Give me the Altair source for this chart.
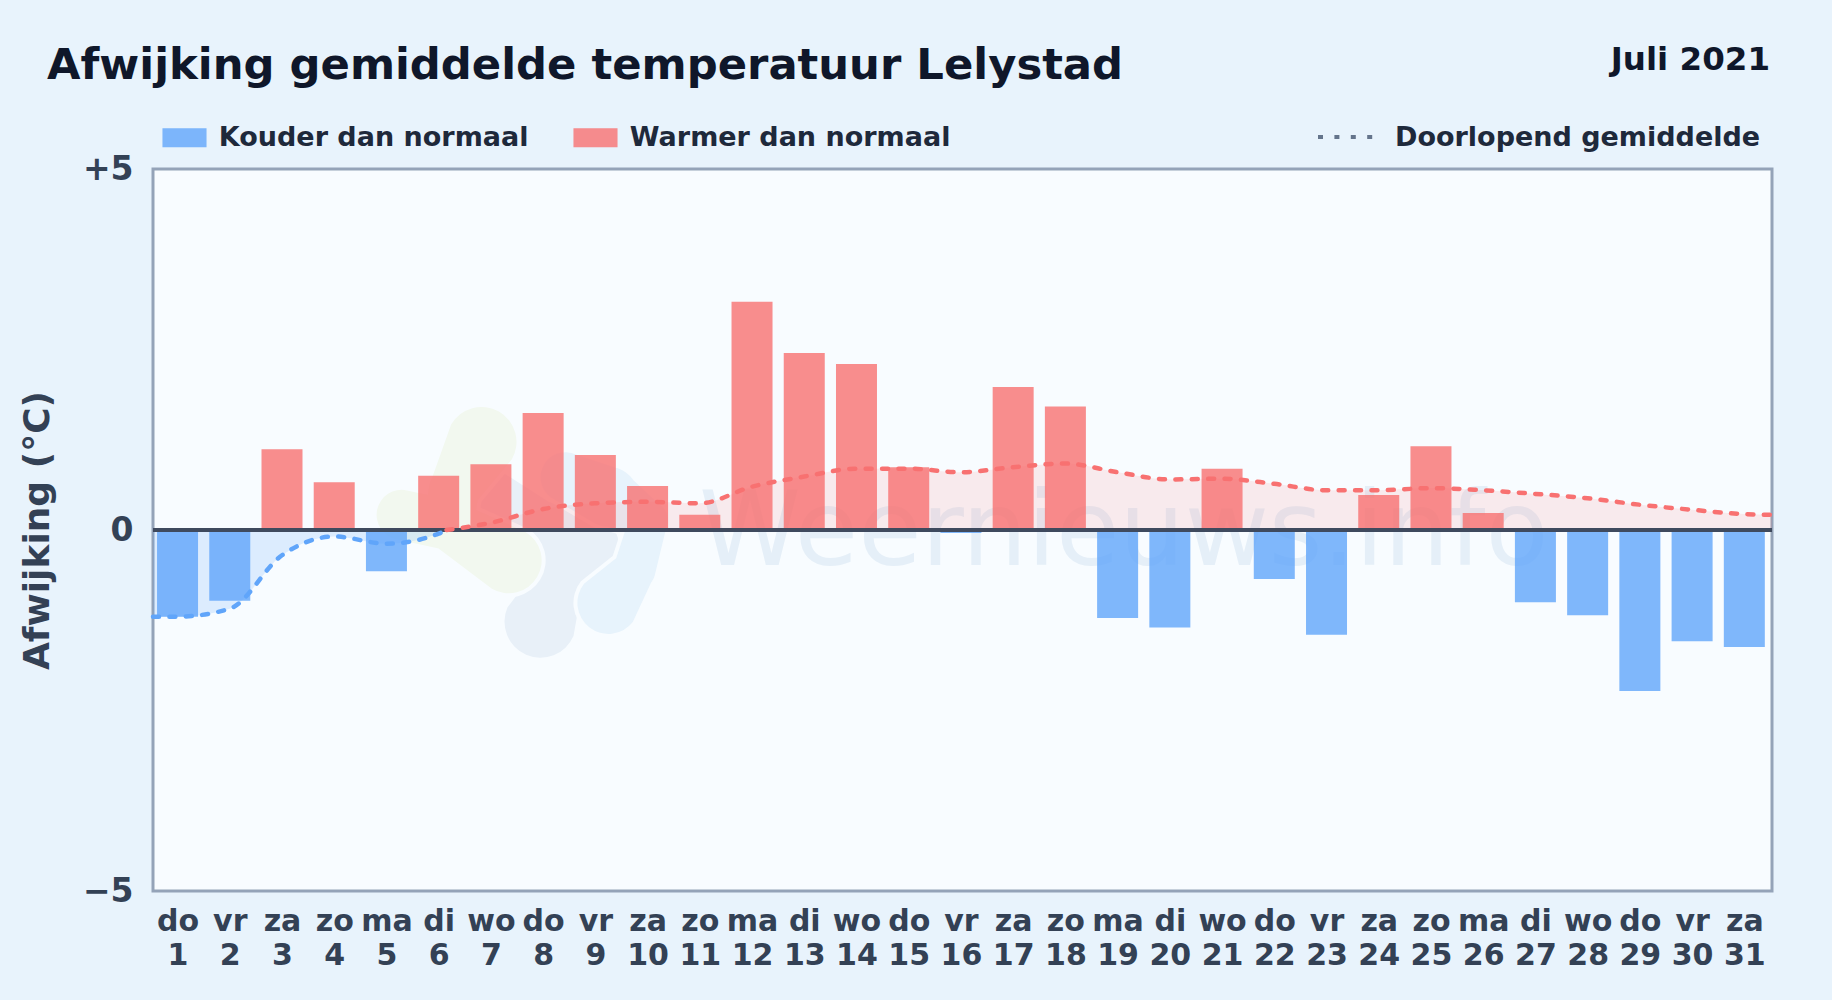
import altair as alt
import pandas as pd

FONT = "DejaVu Sans"
BG = "#e8f3fc"
PLOT = "#f8fcff"

day_names = ["do","vr","za","zo","ma","di","wo","do","vr","za","zo","ma","di","wo","do","vr","za","zo","ma","di","wo","do","vr","za","zo","ma","di","wo","do","vr","za"]
days = list(range(1, 32))
deviation = [-1.20,-0.98,1.12,0.66,-0.57,0.75,0.91,1.62,1.04,0.61,0.21,3.16,2.45,2.30,0.87,-0.04,1.98,1.71,-1.22,-1.35,0.85,-0.68,-1.45,0.485,1.16,0.235,-1.00,-1.18,-2.23,-1.54,-1.62]

cold_x = [0.53,1,2,3,4,5,6,6.15]
cold_y = [-1.20,-1.20,-1.09,-0.35,-0.09,-0.19,-0.05,0.0]
warm_x = [6.15,7,8,9,10,11,12,13,14,15,16,17,18,19,20,21,22,23,24,25,26,27,28,29,30,31,31.53]
warm_y = [0.0,0.10,0.29,0.37,0.39,0.37,0.60,0.74,0.85,0.85,0.80,0.87,0.92,0.80,0.70,0.71,0.64,0.55,0.55,0.58,0.55,0.50,0.44,0.35,0.28,0.22,0.21]

logo_dark = [("a",6.96,0.46,56),("a",7.91,0.07,50),("a",8.87,-0.21,60),("b",8.87,-0.21,60),("b",8.30,-0.69,50),("b",7.95,-1.27,72)]
logo_light = [("a",8.43,0.73,50),("a",9.25,0.46,60),("a",10.02,0.14,38),("a",9.75,-0.55,42),("a",9.25,-1.01,62)]
logo_green = [("a",5.29,0.21,50),("a",6.19,0.07,50),("a",7.34,-0.42,66),("b",6.82,1.22,70),("b",6.29,0.55,50),("b",6.19,0.07,50)]

LABEL_COLD = "Kouder dan normaal"
LABEL_WARM = "Warmer dan normaal"

bars_df = pd.DataFrame({"dag": days, "afwijking": deviation, "naam": day_names})
bars_df["soort"] = [LABEL_COLD if v < 0 else LABEL_WARM for v in deviation]
cold_df = pd.DataFrame({"dag": cold_x, "gem": cold_y})
warm_df = pd.DataFrame({"dag": warm_x, "gem": warm_y})

X = alt.Scale(domain=[0.53, 31.53], nice=False, zero=False, padding=0)
Y = alt.Scale(domain=[-5, 5], nice=False)

names_js = "[" + ",".join(f"'{n}'" for n in day_names) + "]"

x_axis = alt.Axis(
    values=days, ticks=False, domain=False, grid=False, labelOverlap=False, labelFlush=False,
    labelExpr=f"[{names_js}[datum.value-1], '' + datum.value]",
    labelFont=FONT, labelFontSize=30, labelFontWeight="bold", labelColor="#334155",
    labelPadding=15, labelLineHeight=34)
y_axis = alt.Axis(
    values=[-5, 0, 5], ticks=False, domain=False, grid=False,
    labelExpr="datum.value > 0 ? '+5' : datum.value < 0 ? '\u22125' : '0'",
    labelFont=FONT, labelFontSize=33, labelFontWeight="bold", labelColor="#334155", labelPadding=20,
    titleFont=FONT, titleFontSize=36, titleFontWeight="bold", titleColor="#334155", titlePadding=26)
Y_TITLE = "Afwijking (°C)"

def xe(field):
    return alt.X(field, scale=X, axis=x_axis, title=None)

def ye(field):
    return alt.Y(field, scale=Y, axis=y_axis, title=Y_TITLE)

def logo_layer(rows, color, halo=0):
    df = pd.DataFrame(rows, columns=["deel", "dag", "w", "b"])
    df["b"] = df["b"] + halo
    df["volg"] = range(len(df))
    return alt.Chart(df).mark_trail(color=color).encode(
        x=xe("dag:Q"),
        y=ye("w:Q"),
        size=alt.Size("b:Q", scale=None, legend=None),
        detail="deel:N",
        order="volg:Q",
    )

layers = [
    logo_layer(logo_dark, "#e8f0f8"),
    logo_layer(logo_light, PLOT, 8),
    logo_layer(logo_light, "#e7f3fc"),
    logo_layer(logo_green, PLOT, 8),
    logo_layer(logo_green, "#f2f8ef"),
    alt.Chart().mark_text(text="Weernieuws.info", font=FONT, fontSize=103, align="left",
                          baseline="alphabetic", color="#e5eff8").encode(
        x=alt.value(546), y=alt.value(396)),
]

for df, col, op in [(cold_df, "#60a5fa", 0.18), (warm_df, "#f87171", 0.13)]:
    layers.append(alt.Chart(df).mark_area(color=col, opacity=op, interpolate="monotone").encode(
        x=xe("dag:Q"),
        y=ye("gem:Q"),
    ))

bars = alt.Chart(bars_df).mark_bar(size=41, opacity=0.8).encode(
    x=xe("dag:Q"),
    y=ye("afwijking:Q"),
    color=alt.Color("soort:N", scale=alt.Scale(domain=[LABEL_COLD, LABEL_WARM], range=["#60a5fa", "#f87171"]),
        legend=alt.Legend(title=None, orient="none", legendX=18, legendY=-45, direction="horizontal", columns=2,
            symbolType="M-2.32,-1H2.32V1H-2.32Z", symbolSize=361, symbolStrokeWidth=0, symbolOpacity=0.8,
            labelFont=FONT, labelFontSize=27, labelFontWeight="bold", labelColor="#1e293b",
            labelOffset=20.8, columnPadding=44, labelLimit=500)),
)
layers.append(bars)

layers.append(alt.Chart().mark_rule(color="#3f4a5e", strokeWidth=4).encode(
    y=alt.Y(datum=0, scale=Y, axis=y_axis, title=Y_TITLE)))

for df, col in [(cold_df, "#60a5fa"), (warm_df, "#f87171")]:
    layers.append(alt.Chart(df).mark_line(color=col, strokeWidth=4.5, strokeDash=[6, 10.4], strokeCap="round",
                                          interpolate="monotone").encode(
        x=xe("dag:Q"),
        y=ye("gem:Q"),
    ))

layers += [
    alt.Chart().mark_rule(color="#64748b", strokeWidth=4, strokeDash=[5, 11.4]).encode(
        x=alt.value(1165), x2=alt.value(1222), y=alt.value(-32)),
    alt.Chart().mark_text(text="Doorlopend gemiddelde", font=FONT, fontSize=27, fontWeight="bold", align="left",
                          baseline="alphabetic", color="#1e293b").encode(x=alt.value(1242), y=alt.value(-23)),
    alt.Chart().mark_text(text="Juli 2021", font=FONT, fontSize=32.5, fontWeight="bold", align="right",
                          baseline="alphabetic", color="#0f172a").encode(x=alt.value(1617), y=alt.value(-99)),
    alt.Chart().mark_text(text="Afwijking gemiddelde temperatuur Lelystad", font=FONT, fontSize=43.3, fontWeight="bold",
                          align="left", baseline="alphabetic", color="#0f172a").encode(x=alt.value(-106), y=alt.value(-90)),
]

chart = alt.layer(*layers).properties(
    width=1619,
    height=722,
    background=BG,
    autosize=alt.AutoSizeParams(type="none"),
    padding={"left": 153, "top": 169, "right": 60, "bottom": 109},
).configure_view(fill=PLOT, stroke="#94a3b8", strokeWidth=3)

chart.save("out.html", embed_options={"renderer": "svg", "actions": False,
    "defaultStyle": "html,body{margin:0;padding:0;overflow:hidden;background:#e8f3fc}"})
